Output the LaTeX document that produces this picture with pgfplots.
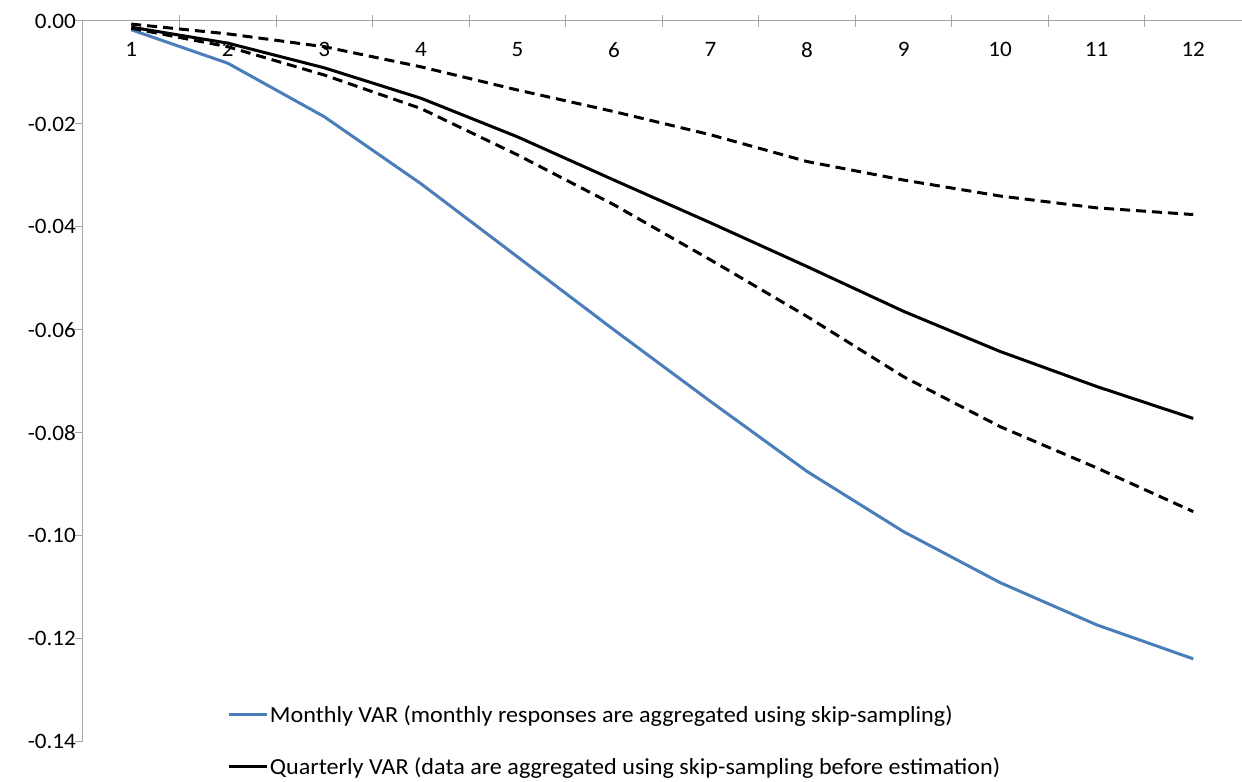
\documentclass[border=0pt]{standalone}
\usepackage{fontspec}
\setmainfont{Carlito}[FakeStretch=1.05]
\usepackage{pgfplots}
\pgfplotsset{compat=1.18}
\definecolor{vblue}{HTML}{4A7EBB}
\definecolor{axgray}{HTML}{A6A6A6}
\pgfplotstableread{
h monthly quarterly lower upper
1  -0.0017 -0.0012 -0.0014 -0.0006
2  -0.0082 -0.0043 -0.0050 -0.0025
3  -0.0186 -0.0091 -0.0105 -0.0050
4  -0.0316 -0.0150 -0.0170 -0.0089
5  -0.0458 -0.0225 -0.0260 -0.0134
6  -0.0600 -0.0309 -0.0357 -0.0176
7  -0.0739 -0.0392 -0.0464 -0.0221
8  -0.0875 -0.0477 -0.0574 -0.0273
9  -0.0992 -0.0564 -0.0691 -0.0309
10 -0.1091 -0.0642 -0.0788 -0.0340
11 -0.1173 -0.0710 -0.0868 -0.0363
12 -0.1239 -0.0772 -0.0953 -0.0376
}\irf
\begin{document}
\begin{tikzpicture}[x=1pt,y=1pt]
\begin{axis}[
  at={(83pt,-21pt)}, anchor=north west,
  width=1159pt, height=721pt, scale only axis,
  xmin=0.5, xmax=12.5, ymin=-0.14, ymax=0,
  axis y line*=left, axis x line*=top,
  axis line style={axgray, line width=1pt, -},
  xtick={1,...,12},
  minor xtick={1.5,2.5,...,11.5},
  ytick={-0.14,-0.12,-0.10,-0.08,-0.06,-0.04,-0.02,0},
  tick align=outside,
  major tick length=8pt,
  minor tick length=12pt,
  major x tick style={draw=none},
  minor x tick style={axgray, line width=1pt, yshift=-6pt},
  major y tick style={axgray, line width=1pt},
  tick label style={text=black, /pgf/number format/assume math mode=true},
  xticklabel style={font=\fontsize{22}{26}\selectfont, anchor=north, yshift=-26pt},
  yticklabel style={font=\fontsize{22}{26}\selectfont, anchor=east, inner sep=0pt, xshift=1pt, /pgf/number format/.cd, fixed, fixed zerofill, precision=2, assume math mode=true},
  scaled y ticks=false,
  legend style={at={(0.125,0.052)}, anchor=north west, draw=none, fill=none,
    font=\fontsize{23}{27}\selectfont, row sep=32pt, inner sep=0pt,
    nodes={inner sep=1pt}},
  legend cell align=left,
  legend image code/.code={\draw[#1] (0pt,0pt) -- (38pt,0pt);},
  clip=false,
]
\addplot[vblue, line width=3pt, line join=round] table[x=h, y=monthly] {\irf};
\addlegendentry{Monthly VAR (monthly responses are aggregated using skip-sampling)}
\addplot[black, line width=3pt, line join=round] table[x=h, y=quarterly] {\irf};
\addlegendentry{Quarterly VAR (data are aggregated using skip-sampling before estimation)}
\addplot[black, line width=3pt, dash pattern=on 10pt off 6pt, forget plot] table[x=h, y=lower] {\irf};
\addplot[black, line width=3pt, dash pattern=on 10pt off 6pt, forget plot] table[x=h, y=upper] {\irf};
\end{axis}
\path[use as bounding box] (0,0) rectangle (1242,-782);
\end{tikzpicture}
\end{document}
